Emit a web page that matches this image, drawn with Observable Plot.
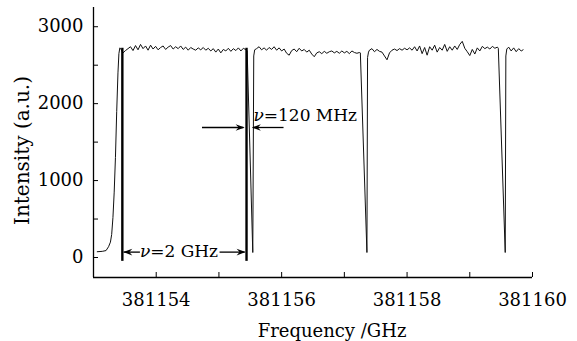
<!DOCTYPE html>
<html><head><meta charset="utf-8">
<script src="https://cdn.jsdelivr.net/npm/d3@7"></script>
<script src="https://cdn.jsdelivr.net/npm/@observablehq/plot@0.6"></script>
<style>body{margin:0;background:#fff}</style>
</head><body><div id="chart"></div>
<script>
// ---- axes ----
const xDomain = [381153, 381160];
const yDomain = [-260, 3250];
const xTicks = [381154, 381155, 381156, 381157, 381158, 381159, 381160];
const xTickLabels = [381154, 381156, 381158, 381160];
const yTicks = [0, 500, 1000, 1500, 2000, 2500, 3000];
const yTickLabels = [0, 1000, 2000, 3000];
const xLabel = "Frequency /GHz";
const yLabel = "Intensity (a.u.)";

// ---- transmission trace [frequency GHz, intensity a.u.] ----
const riseEdge = [
  [381153.06, 75], [381153.14, 80], [381153.20, 90], [381153.24, 140], [381153.27, 200],
  [381153.29, 300], [381153.31, 520], [381153.33, 850], [381153.35, 1300], [381153.37, 1900],
  [381153.39, 2400], [381153.405, 2650], [381153.42, 2725]
];
const plateau1 = [
  [381153.43, 2720], [381153.47, 2660], [381153.51, 2690], [381153.55, 2715], [381153.59, 2740],
  [381153.63, 2690], [381153.67, 2755], [381153.71, 2700], [381153.75, 2770], [381153.79, 2715],
  [381153.83, 2750], [381153.87, 2695], [381153.91, 2760], [381153.95, 2710], [381153.99, 2745],
  [381154.03, 2700], [381154.07, 2730], [381154.11, 2750], [381154.15, 2705], [381154.19, 2735],
  [381154.23, 2755], [381154.27, 2710], [381154.31, 2740], [381154.35, 2715], [381154.39, 2750],
  [381154.43, 2705], [381154.47, 2735], [381154.51, 2695], [381154.55, 2730], [381154.59, 2710],
  [381154.63, 2695], [381154.67, 2725], [381154.71, 2700], [381154.75, 2730], [381154.79, 2695],
  [381154.83, 2720], [381154.87, 2685], [381154.91, 2715], [381154.95, 2670], [381154.99, 2710],
  [381155.03, 2660], [381155.07, 2705], [381155.11, 2685], [381155.15, 2720], [381155.19, 2680],
  [381155.23, 2715], [381155.27, 2690], [381155.31, 2725], [381155.35, 2685], [381155.39, 2720],
  [381155.43, 2700]
];
const dip1 = [[381155.45, 2690], [381155.54, 65], [381155.555, 2620], [381155.57, 2700]];
const plateau2 = [
  [381155.60, 2715], [381155.64, 2740], [381155.68, 2700], [381155.72, 2725], [381155.76, 2695],
  [381155.80, 2730], [381155.84, 2705], [381155.88, 2740], [381155.92, 2695], [381155.96, 2725],
  [381156.00, 2685], [381156.04, 2710], [381156.08, 2655], [381156.12, 2630], [381156.16, 2690],
  [381156.20, 2710], [381156.24, 2675], [381156.28, 2720], [381156.32, 2685], [381156.36, 2705],
  [381156.40, 2670], [381156.44, 2695], [381156.48, 2645], [381156.52, 2610], [381156.56, 2660],
  [381156.60, 2675], [381156.64, 2650], [381156.68, 2680], [381156.72, 2655], [381156.76, 2675],
  [381156.80, 2685], [381156.84, 2660], [381156.88, 2680], [381156.92, 2655], [381156.96, 2685],
  [381157.00, 2660], [381157.04, 2680], [381157.08, 2650], [381157.12, 2685], [381157.16, 2665],
  [381157.20, 2655], [381157.24, 2665]
];
const dip2 = [[381157.255, 2660], [381157.36, 65], [381157.37, 2600], [381157.385, 2670]];
const plateau3 = [
  [381157.40, 2695], [381157.44, 2715], [381157.48, 2675], [381157.52, 2705], [381157.56, 2680],
  [381157.60, 2670], [381157.64, 2620], [381157.68, 2570], [381157.72, 2660], [381157.76, 2695],
  [381157.80, 2710], [381157.84, 2690], [381157.88, 2715], [381157.92, 2695], [381157.96, 2720],
  [381158.00, 2700], [381158.04, 2725], [381158.08, 2695], [381158.12, 2740], [381158.16, 2685],
  [381158.20, 2750], [381158.24, 2650], [381158.28, 2730], [381158.32, 2630], [381158.36, 2740],
  [381158.40, 2695], [381158.44, 2760], [381158.48, 2670], [381158.52, 2730], [381158.56, 2695],
  [381158.60, 2770], [381158.64, 2680], [381158.68, 2740], [381158.72, 2695], [381158.76, 2750],
  [381158.80, 2705], [381158.84, 2770], [381158.88, 2810], [381158.92, 2720], [381158.96, 2675],
  [381159.00, 2625], [381159.04, 2705], [381159.08, 2645], [381159.12, 2725], [381159.16, 2685],
  [381159.20, 2745], [381159.24, 2715], [381159.28, 2735], [381159.32, 2710], [381159.36, 2745],
  [381159.40, 2720], [381159.44, 2735]
];
const dip3 = [[381159.455, 2720], [381159.565, 65], [381159.575, 2620], [381159.59, 2710]];
const plateau4 = [
  [381159.62, 2735], [381159.66, 2685], [381159.70, 2725], [381159.74, 2675], [381159.78, 2715],
  [381159.82, 2685], [381159.85, 2700]
];

// ---- annotations ----
const markerLines = [
  {f: 381153.46, top: 2720, bottom: -50},
  {f: 381155.44, top: 2720, bottom: -50}
];
const arrowShafts = [
  {x1: 381153.74, x2: 381153.48, y: 70},
  {x1: 381155.01, x2: 381155.41, y: 70},
  {x1: 381154.73, x2: 381155.39, y: 1690},
  {x1: 381156.03, x2: 381155.54, y: 1690}
];
const arrowHeads = [
  {f: 381153.475, v: 70, dir: "left"},
  {f: 381155.425, v: 70, dir: "right"},
  {f: 381155.41, v: 1690, dir: "right"},
  {f: 381155.525, v: 1690, dir: "left"}
];
const annotations = [
  {f: 381153.74, v: 75, label: "ν=2 GHz"},
  {f: 381155.55, v: 1845, label: "ν=120 MHz"}
];

const trace = [].concat(riseEdge, plateau1, dip1, plateau2, dip2, plateau3, dip3, plateau4)
  .map(([f, v]) => ({f, v}));

const headRight = {draw(c) { c.moveTo(0, 0); c.lineTo(-9, -3.3); c.lineTo(-6, 0); c.lineTo(-9, 3.3); c.closePath(); }};
const headLeft = {draw(c) { c.moveTo(0, 0); c.lineTo(9, -3.3); c.lineTo(6, 0); c.lineTo(9, 3.3); c.closePath(); }};

const chart = Plot.plot({
  width: 577,
  height: 341,
  marginLeft: 93,
  marginRight: 45,
  marginTop: 7,
  marginBottom: 64,
  x: {domain: xDomain},
  y: {domain: yDomain},
  style: {fontFamily: "DejaVu Serif", fontSize: "18px", color: "#000", background: "#fff"},
  marks: [
    Plot.axisX({ticks: xTicks, tickSize: -5, tickPadding: 21, label: null, fontSize: 18,
      tickFormat: d => xTickLabels.includes(d) ? String(d) : "", stroke: "#000", fill: "#000"}),
    Plot.axisY({ticks: yTicks, tickSize: -5, tickPadding: 15, label: null, fontSize: 18,
      tickFormat: d => yTickLabels.includes(d) ? String(d) : "", stroke: "#000", fill: "#000"}),
    Plot.ruleX([xDomain[0]], {stroke: "#000", strokeWidth: 1.3}),
    Plot.ruleY([yDomain[0]], {stroke: "#000", strokeWidth: 1.3}),
    Plot.line(trace, {x: "f", y: "v", stroke: "#111", strokeWidth: 1}),
    Plot.ruleX(markerLines, {x: "f", y1: "bottom", y2: "top", stroke: "#000", strokeWidth: 2.4}),
    Plot.link(arrowShafts, {x1: "x1", x2: "x2", y1: "y", y2: "y", stroke: "#000", strokeWidth: 1.3}),
    Plot.dot(arrowHeads.filter(d => d.dir === "right"), {x: "f", y: "v", symbol: headRight, fill: "#000", stroke: "none", r: 4}),
    Plot.dot(arrowHeads.filter(d => d.dir === "left"), {x: "f", y: "v", symbol: headLeft, fill: "#000", stroke: "none", r: 4}),
    Plot.text(annotations, {x: "f", y: "v", text: "label", textAnchor: "start", lineAnchor: "middle", fontSize: 17, fill: "#000"}),
    Plot.text([xLabel], {text: d => d, frameAnchor: "bottom", dx: 19, dy: 54, textAnchor: "middle", lineAnchor: "middle", fontSize: 18, fill: "#000"}),
    Plot.text([yLabel], {text: d => d, frameAnchor: "left", dx: -71, dy: 8, rotate: -90, textAnchor: "middle", lineAnchor: "middle", fontSize: 20, fill: "#000"})
  ]
});

// italic Greek nu in annotations
d3.select(chart).selectAll("text").each(function() {
  const t = this.textContent;
  if (t.startsWith("ν") && this.childElementCount === 0) {
    const sel = d3.select(this);
    sel.text(null);
    sel.append("tspan").attr("font-style", "italic").text("ν");
    sel.append("tspan").text(t.slice(1));
  }
});

document.getElementById("chart").appendChild(chart);
</script>
</body></html>
